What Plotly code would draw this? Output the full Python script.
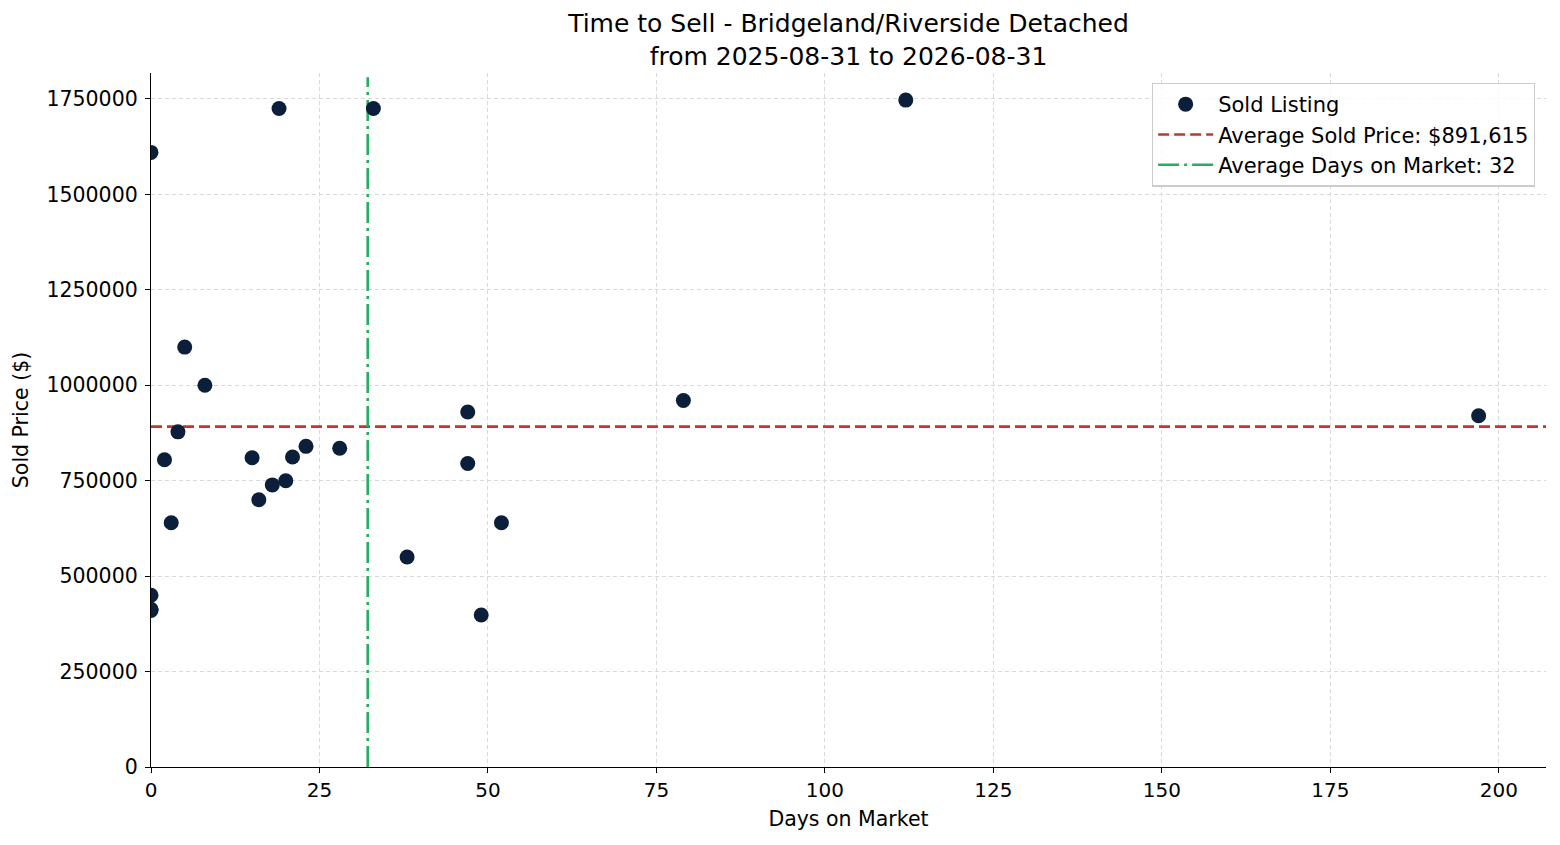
import plotly.graph_objects as go
import numpy as np

# sold listings (days on market, sold price)
days = [0, 0, 0, 0, 2, 3, 4, 5, 8, 15, 16, 18, 19, 20, 21, 23, 28, 33, 38,
        47, 47, 49, 52, 79, 112, 197]
prices = [1610000, 450000, 410000, 412990, 805000, 640000, 878000, 1100000,
          1000000, 810000, 700000, 739000, 1725000, 750000, 812000, 840000,
          835000, 1725000, 550000, 930000, 795000, 398000, 640000, 960000,
          1747000, 920000]

x_ticks = [0, 25, 50, 75, 100, 125, 150, 175, 200]
y_ticks = [0, 250000, 500000, 750000, 1000000, 1250000, 1500000, 1750000]

avg_price = np.mean(prices)
avg_days = np.mean(days)

x_max = 207
y_max = 1818000

fig = go.Figure()

fig.add_trace(go.Scatter(
    x=[0, x_max], y=[avg_price, avg_price], mode="lines",
    name=f"Average Sold Price: ${avg_price:,.0f}", legendrank=2,
    line=dict(color="#c0392b", width=2.6, dash="11px,5px")))

fig.add_trace(go.Scatter(
    x=[avg_days, avg_days], y=[0, y_max * 0.994], mode="lines",
    name=f"Average Days on Market: {avg_days:.0f}", legendrank=3,
    line=dict(color="#27ae60", width=2.6, dash="21px,5px,3px,5px")))

fig.add_trace(go.Scatter(
    x=days, y=prices, mode="markers", name="Sold Listing", legendrank=1,
    marker=dict(color="#0b1e3a", size=15, line=dict(width=0))))

# the page body has an 8px margin, so the figure is a bit smaller than the window
W, H = 1544, 829
fig.update_layout(
    width=W, height=H,
    plot_bgcolor="white", paper_bgcolor="white",
    margin=dict(l=143, r=6, t=65, b=70, autoexpand=False),
    font=dict(family="DejaVu Sans", size=20, color="black"),
    title=dict(text="Time to Sell - Bridgeland/Riverside Detached<br>from 2025-08-31 to 2026-08-31",
               x=0.5, xref="paper", xanchor="center",
               y=1 - 24 / H, yref="container", yanchor="top",
               font=dict(size=25, color="black")),
    legend=dict(x=0.992, y=0.986, xanchor="right", yanchor="top",
                bgcolor="rgba(255,255,255,0.8)", bordercolor="#cccccc", borderwidth=1.3,
                font=dict(size=21), traceorder="normal", itemwidth=55),
    showlegend=True,
)

grid = dict(showgrid=True, gridcolor="#d9d9d9", griddash="4px,3px", gridwidth=1, zeroline=False)

fig.update_xaxes(
    range=[0, x_max], tickvals=x_ticks,
    title=dict(text="Days on Market", font=dict(size=20.5), standoff=10),
    showline=True, linecolor="black", linewidth=1.3,
    ticks="outside", ticklen=5, tickwidth=1.3, tickcolor="black",
    tickfont=dict(size=20), **grid)

fig.update_yaxes(
    range=[0, y_max], tickvals=y_ticks, ticktext=[str(v) for v in y_ticks],
    title=dict(text="Sold Price ($)", font=dict(size=20.5), standoff=12),
    showline=True, linecolor="black", linewidth=1.3,
    ticks="outside", ticklen=5, tickwidth=1.3, tickcolor="black",
    ticklabelstandoff=3, tickfont=dict(size=20.5), **grid)

fig.write_html("out.html")
